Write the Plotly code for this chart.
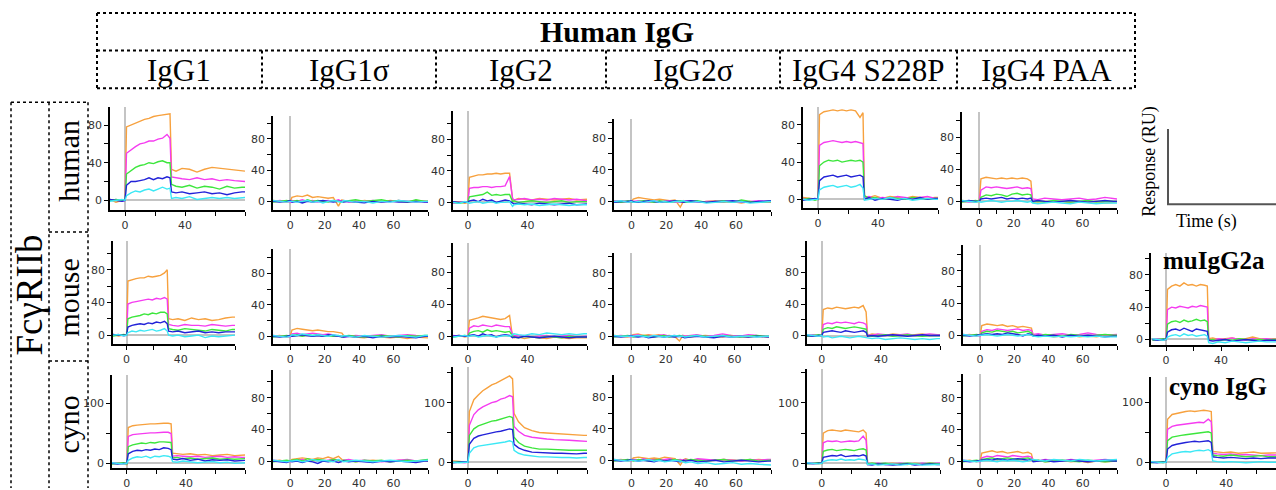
import plotly.graph_objects as go

# ---------------- data ----------------
T = [-10, -6, -2, 0, 1, 4, 7, 10, 13, 16, 19, 22, 25, 28, 30, 31, 34, 38, 43, 48, 53, 58, 63, 68, 73, 78, 80]
SERIES_COLORS = ["#F7A13E", "#F53CF0", "#3CE63C", "#2222D8", "#3CE8F5"]  # orange, magenta, green, blue, cyan

igg1_human = [
    [1,-2,0,0,78,80,82,84,86,87,89,90,91,92,92,33,31,34,33,30,33,35,34,33,32,31,31],
    [0,1,-1,0,50,54,57,60,61,63,63,65,66,70,66,25,24,23,22,24,22,23,21,22,21,20,20],
    [0,1,0,0,28,32,35,37,38,40,39,41,42,40,40,17,15,14,16,13,15,14,12,15,13,14,14],
    [1,0,-1,0,16,20,20,21,22,24,22,24,23,25,24,9,8,9,7,8,9,7,8,6,8,9,9],
    [-1,0,1,0,5,8,10,9,11,12,10,12,14,12,13,2,3,2,4,1,2,3,2,3,2,3,3]]
igg1s_human = [
    [1,0,-1,0,5,7,6,8,5,6,5,4,5,-6,2,1,0,-1,1,0,-1,1,0,-1,1,0,0],
    [0,1,0,-1,1,0,2,0,1,-1,0,1,0,2,0,1,-1,0,0,1,-1,0,1,0,-1,0,-1],
    [-1,0,1,0,0,1,-1,2,0,1,0,-1,1,0,-1,0,1,2,0,1,2,0,1,-1,2,0,0],
    [0,-1,0,1,-1,0,-2,0,-1,0,1,0,-1,0,0,-1,0,-1,-2,0,-1,0,-1,-1,0,-1,-1],
    [1,0,-1,0,0,-1,0,1,-1,0,-2,0,1,0,-1,1,0,-1,0,-2,0,-1,1,0,-1,0,0]]
igg2_human = [
    [0,1,-1,0,32,34,35,35,36,36,37,36,37,37,4,3,5,4,3,5,4,3,4,5,3,4,4],
    [-1,0,1,0,18,19,19,20,20,19,20,20,21,33,5,3,4,5,3,4,3,5,4,3,4,2,2],
    [0,-1,0,0,7,8,9,10,13,9,10,9,10,10,1,2,0,1,2,1,0,1,2,0,1,1,1],
    [1,0,0,0,2,3,1,4,2,3,0,2,3,2,-1,-2,-1,-2,-3,-1,-2,-3,-2,-1,-3,-2,-2],
    [0,-1,1,0,-1,0,1,-1,0,1,-1,0,0,1,-5,-3,-2,-3,-2,-4,-3,-2,-3,-4,-3,-3,-3]]
igg2s_human = [
    [0,1,-1,0,3,5,4,3,2,3,2,1,2,-7,1,0,1,-1,0,1,-1,0,-2,0,-1,-1,-1],
    [1,0,0,-1,0,1,0,-1,1,0,0,1,-1,0,0,1,0,-1,0,0,1,0,-1,0,1,0,0],
    [0,-1,1,0,-1,0,1,0,-1,1,0,-1,0,1,0,-1,0,1,-1,0,1,-1,2,0,-1,0,0],
    [-1,0,0,1,0,-1,0,1,0,-1,0,0,1,0,-1,0,1,0,-1,0,0,1,0,-1,0,1,1],
    [0,1,-1,0,-1,0,-1,0,1,-1,0,-1,0,0,1,0,-1,0,-2,-1,0,-1,0,-2,-1,0,0]]
igg4p_human = [
    [2,1,0,0,91,94,95,96,95,96,95,96,95,88,93,3,2,4,1,3,2,1,3,2,1,2,2],
    [1,0,0,0,58,61,62,63,62,61,62,61,62,61,60,2,3,1,2,1,3,2,1,2,3,1,1],
    [0,1,-1,0,36,40,42,41,42,40,41,42,41,42,40,4,1,2,0,2,1,0,2,1,0,1,1],
    [-1,0,1,0,20,24,25,26,24,25,26,24,25,26,24,0,2,-1,1,0,-1,1,0,2,0,1,1],
    [0,-1,0,0,10,13,14,15,13,14,15,13,14,16,12,-1,0,1,0,2,0,1,-1,0,1,0,0]]
igg4paa_human = [
    [1,0,-1,0,28,30,29,28,29,28,29,28,29,28,25,0,-1,0,-1,0,-2,0,-1,0,-2,-1,-1],
    [0,-1,0,0,14,18,17,18,17,16,17,18,16,17,16,3,2,4,3,2,3,4,2,3,5,3,3],
    [-1,0,1,0,5,8,7,9,8,6,9,10,8,9,8,-1,0,-1,1,0,-1,0,1,-1,0,0,0],
    [0,1,0,0,3,4,3,4,5,3,4,3,4,3,4,0,1,0,-1,0,1,0,-1,0,1,0,0],
    [1,0,-1,0,-1,0,1,0,-1,0,0,1,0,-1,0,-2,-3,-2,-1,-2,-3,-1,-2,-3,-2,-2,-2]]

igg1_mouse = [
    [1,-1,0,0,66,68,69,70,70,72,71,72,73,76,80,20,19,20,18,21,19,20,18,19,21,22,22],
    [0,1,-1,0,38,40,41,42,43,44,43,45,44,46,44,13,12,11,13,12,12,11,13,12,11,12,12],
    [-1,0,1,0,20,22,23,24,26,25,27,26,28,28,26,8,7,6,8,7,6,5,7,6,5,7,7],
    [1,0,0,0,10,12,13,14,13,15,14,16,15,17,14,5,4,5,3,4,5,3,4,3,4,4,4],
    [0,1,-1,0,3,5,4,6,5,6,7,5,6,8,5,0,-1,0,-2,-1,0,-3,-1,-2,-1,0,0]]
igg1s_mouse = [
    [0,1,-1,0,8,10,9,8,7,8,7,6,6,5,4,1,0,-1,-2,0,-1,-2,-1,-3,-1,-2,-2],
    [1,0,0,-1,3,4,2,3,4,3,2,3,2,1,0,-1,0,1,0,1,2,0,1,2,1,0,0],
    [-1,0,1,0,1,2,0,2,1,2,0,1,0,1,-1,0,1,0,-1,0,1,0,-1,1,0,1,1],
    [0,-1,0,1,0,1,2,1,0,1,0,2,1,0,0,-1,0,-1,0,-2,0,-1,0,-1,-2,0,0],
    [1,0,-1,0,2,1,3,2,1,2,1,0,2,1,0,1,0,-1,1,0,-1,0,1,0,-1,1,1]]
igg2_mouse = [
    [0,1,-1,0,20,22,23,25,24,23,22,21,22,26,-1,-2,-1,-3,-1,-2,-3,-1,-2,-3,-2,-2,-2],
    [1,0,0,0,10,13,12,14,13,12,14,13,12,12,2,1,0,1,-1,0,1,-1,0,1,-1,0,0],
    [-1,0,1,0,4,6,7,5,8,6,7,6,5,6,0,-1,-2,0,-1,-2,0,-1,-2,0,-1,-1,-1],
    [0,1,0,0,1,2,0,3,1,2,-1,1,2,1,-2,-1,-2,0,-1,-2,-1,0,-1,-2,-1,-1,-1],
    [-1,0,1,0,0,1,-1,0,1,0,-1,0,1,0,2,3,2,1,3,2,4,3,2,3,2,3,3]]
igg2s_mouse = [
    [1,0,-1,0,2,3,1,2,1,2,0,1,0,-6,1,0,-1,0,1,0,-1,1,0,-1,0,-1,-1],
    [0,1,0,-1,1,2,0,1,0,1,2,0,1,0,1,0,1,2,0,1,3,1,0,2,1,0,0],
    [-1,0,1,0,-1,0,1,0,-1,0,1,-1,0,1,0,-1,0,1,0,-1,1,0,-1,0,1,0,0],
    [0,-1,0,1,0,-1,0,-2,-1,0,-1,0,-1,0,-1,-2,-1,0,-1,-2,0,-1,0,-1,0,-1,-1],
    [1,0,0,0,0,1,0,-1,1,0,-1,0,1,0,0,-1,0,1,-1,0,1,-1,0,0,-1,0,0]]
igg4p_mouse = [
    [1,0,-1,0,33,35,34,36,35,34,35,36,35,38,30,0,2,1,0,2,1,0,1,2,0,1,1],
    [0,1,0,0,14,16,15,17,16,17,16,15,17,16,14,1,0,2,1,0,1,2,0,1,2,1,1],
    [-1,0,1,0,8,10,9,11,10,9,10,11,10,9,8,0,-1,0,1,-1,0,1,0,-1,0,0,0],
    [0,-1,0,0,4,5,6,5,4,6,5,4,5,6,4,-1,0,-1,0,1,0,-1,0,1,0,0,0],
    [1,0,-1,0,-2,-1,-3,-2,-1,-2,-3,-2,-1,-2,-3,-3,-4,-3,-5,-4,-3,-4,-5,-4,-5,-4,-4]]
igg4paa_mouse = [
    [0,1,-1,0,12,14,13,12,13,11,12,10,11,10,9,0,-1,0,-2,-1,0,-2,-1,-2,0,-1,-1],
    [1,0,0,-1,5,7,6,8,7,6,7,8,6,7,6,1,2,0,1,2,0,1,3,1,0,1,1],
    [-1,0,1,0,3,5,4,6,5,4,5,3,4,5,3,0,-1,1,0,-1,1,0,-1,0,1,0,0],
    [0,-1,0,1,1,2,1,2,1,3,2,1,-1,2,1,-1,0,-1,0,-2,0,-1,0,-1,-2,-1,-1],
    [1,0,-1,0,0,1,0,-1,0,1,0,-1,0,1,0,-1,-2,-1,-2,-1,-2,-1,-2,-1,-2,-2,-2]]
muigg2a_mouse = [
    [1,0,-1,0,62,66,68,66,70,67,68,66,68,67,66,1,2,0,1,2,0,1,3,1,0,1,1],
    [0,1,0,0,37,40,39,41,40,39,41,40,42,41,40,0,-1,1,0,2,0,-1,1,0,1,0,0],
    [-1,0,1,0,19,22,23,21,24,22,23,25,23,24,22,-1,0,-2,0,-1,1,0,-1,0,-1,0,0],
    [0,-1,0,0,9,12,13,11,14,12,10,13,12,11,10,-1,-2,-1,0,-2,-1,0,-1,-2,-1,-1,-1],
    [1,0,-1,0,3,5,6,4,7,5,6,4,5,6,4,-4,-5,-3,-4,-2,-3,-4,-3,-2,-3,-3,-3]]

igg1_cyno = [
    [0,1,-1,-2,60,63,64,65,65,66,66,67,67,67,66,17,16,15,16,14,15,13,14,15,13,14,14],
    [1,0,0,-1,45,48,49,50,50,51,51,52,52,52,50,12,13,12,11,12,10,11,12,10,11,10,10],
    [-1,0,1,-1,28,31,33,34,33,35,34,36,36,36,35,9,10,8,9,7,8,9,7,8,7,8,8],
    [0,-1,0,0,16,20,22,21,23,22,24,23,26,25,23,7,6,8,5,7,4,6,5,6,4,5,5],
    [1,0,-1,0,5,9,11,10,12,9,12,11,13,12,10,3,2,4,3,1,2,3,1,2,0,1,1]]
igg1s_cyno = [
    [0,1,-1,0,2,3,4,3,2,4,3,5,3,6,2,0,1,-1,0,1,0,-1,1,0,-1,0,0],
    [1,0,0,-1,0,1,2,0,1,2,0,1,2,1,0,1,2,0,1,0,-1,0,1,2,0,1,1],
    [-1,0,1,0,1,2,0,3,1,2,1,0,2,1,0,1,0,-1,1,0,1,-1,0,1,0,2,2],
    [0,-1,-2,0,-1,0,-2,0,-1,-3,0,-1,0,-2,-1,0,-1,0,-1,-2,0,-1,0,-1,-2,0,0],
    [1,0,-1,0,0,1,-1,0,2,0,1,0,-1,2,0,-1,0,1,0,-1,0,1,0,-1,0,1,1]]
igg2_cyno = [
    [2,1,0,0,85,105,113,120,125,130,133,137,140,145,140,82,68,58,53,50,49,48,47,46,46,45,45],
    [1,0,-1,0,62,80,88,93,97,100,102,106,108,112,110,60,52,45,42,40,39,38,38,37,36,35,35],
    [0,1,0,0,45,56,61,64,66,69,70,72,74,77,75,42,33,27,24,22,22,21,21,20,20,20,20],
    [-1,0,1,0,30,40,44,46,48,50,51,52,54,56,55,30,24,20,17,16,16,15,15,14,14,15,15],
    [0,-1,0,0,15,24,27,28,30,31,32,33,34,36,34,20,15,12,10,9,9,8,8,8,7,8,8]]
igg2s_cyno = [
    [0,1,-1,0,3,4,3,2,3,2,4,3,2,-6,1,2,0,1,-1,0,1,0,-1,0,1,0,0],
    [1,0,0,-1,1,0,2,0,1,0,1,2,0,1,0,1,0,2,1,0,1,0,-1,1,0,1,1],
    [-1,0,1,0,-1,1,0,-1,0,1,-1,0,1,0,-1,0,1,0,-1,0,1,-1,0,1,-1,0,0],
    [0,-1,0,1,0,-1,0,-1,-2,0,-1,0,-1,-2,0,-1,0,-2,-1,0,-2,-1,0,-1,-2,-1,-1],
    [1,0,-1,0,0,-1,0,1,-1,0,-2,-1,0,-1,-2,-3,-2,-4,-3,-5,-4,-3,-5,-4,-5,-6,-6]]
igg4p_cyno = [
    [1,0,-1,0,50,54,55,54,53,55,54,53,52,55,50,-1,0,-2,-1,0,-1,-2,0,-1,0,-1,-1],
    [0,1,0,0,34,37,36,37,35,36,37,36,37,45,38,0,-1,0,-2,-1,0,-1,-2,0,-1,0,0],
    [-1,0,1,0,20,22,23,21,22,23,22,21,23,24,22,-1,0,-1,0,-2,-1,0,-1,-2,0,-1,-1],
    [0,-1,0,0,10,12,13,12,14,11,12,13,12,14,12,-2,-3,-1,-2,-3,-2,-1,-3,-2,-1,-2,-2],
    [1,0,-1,0,3,5,6,5,7,5,6,5,7,6,5,-2,-1,-3,-2,-1,-3,-2,-1,-3,-2,-2,-2]]
igg4paa_cyno = [
    [0,1,-1,0,10,12,13,11,12,10,11,12,10,11,9,0,1,-1,0,1,-1,0,-2,0,-1,0,0],
    [1,0,0,-1,4,6,5,7,6,5,7,6,5,6,5,1,0,2,1,0,2,1,0,1,2,1,1],
    [-1,0,1,0,2,3,4,2,3,4,3,2,3,4,2,0,1,-1,0,1,0,-1,1,0,-1,0,0],
    [0,-1,0,1,1,2,1,3,2,1,2,3,2,1,2,-1,0,1,-1,0,1,0,-1,0,1,0,0],
    [1,0,-1,0,0,1,0,-1,1,0,1,0,-1,0,1,2,1,0,2,1,0,2,1,0,1,2,2]]
cynoigg_cyno = [
    [1,0,-1,0,72,80,82,84,85,86,85,86,87,86,85,18,17,16,17,15,16,17,15,16,17,16,16],
    [0,1,0,0,55,60,62,63,64,65,66,67,66,72,68,15,14,13,14,12,13,12,11,12,11,12,12],
    [-1,0,1,0,36,42,44,45,46,47,48,49,50,51,49,12,11,10,12,10,9,10,11,9,10,9,9],
    [0,-1,0,0,22,28,30,32,33,34,35,34,35,36,33,9,8,7,8,7,6,7,6,7,6,7,7],
    [1,0,-1,0,8,14,16,17,18,17,19,20,19,21,18,2,1,0,1,0,-1,0,1,0,-1,0,0]]

COLUMN_LABELS = ["IgG1", "IgG1σ", "IgG2", "IgG2σ", "IgG4 S228P", "IgG4 PAA"]
ROW_LABELS = ["human", "mouse", "cyno"]

# panel data by (row, col)
PANEL_DATA = {
    (1, 1): igg1_human, (1, 2): igg1s_human, (1, 3): igg2_human,
    (1, 4): igg2s_human, (1, 5): igg4p_human, (1, 6): igg4paa_human,
    (2, 1): igg1_mouse, (2, 2): igg1s_mouse, (2, 3): igg2_mouse,
    (2, 4): igg2s_mouse, (2, 5): igg4p_mouse, (2, 6): igg4paa_mouse, (2, 7): muigg2a_mouse,
    (3, 1): igg1_cyno, (3, 2): igg1s_cyno, (3, 3): igg2_cyno,
    (3, 4): igg2s_cyno, (3, 5): igg4p_cyno, (3, 6): igg4paa_cyno, (3, 7): cynoigg_cyno,
}

# ---------------- geometry (pixels) ----------------
W, H = 1276, 490
# (x_left, x_right, y_top, y_bottom, ymin, ymax, xmin, xmax)
GEOM = {
    (1, 1): (110, 245, 108, 212, -10.5, 99, -10, 80),
    (1, 2): (273, 428, 117, 212, -11.4, 109, -10, 80),
    (1, 3): (453, 587, 112, 212, -10, 116, -10, 80),
    (1, 4): (614, 771, 120, 212, -11, 104, -10, 80),
    (1, 5): (803, 938, 108, 210, -9.6, 99, -10, 80),
    (1, 6): (962, 1117, 113, 210, -8.6, 111, -10, 80),
    (2, 1): (113, 235, 243, 347, -11, 115, -10, 80),
    (2, 2): (273, 428, 251, 347, -10, 111, -10, 80),
    (2, 3): (453, 587, 245, 347, -10, 117, -10, 80),
    (2, 4): (614, 769, 255, 347, -10, 105, -10, 80),
    (2, 5): (807, 940, 243, 347, -11, 120, -10, 80),
    (2, 6): (963, 1117, 247, 347, -11, 112, -10, 80),
    (2, 7): (1151, 1276, 255, 348, -7, 107, -11, 80),
    (3, 1): (112, 245, 378, 472, -8, 148, -10, 80),
    (3, 2): (273, 428, 373, 472, -9, 115, -10, 80),
    (3, 3): (453, 587, 370, 472, -10, 160, -10, 80),
    (3, 4): (614, 771, 378, 472, -10, 109, -10, 80),
    (3, 5): (807, 940, 372, 472, -8, 156, -10, 80),
    (3, 6): (963, 1117, 377, 472, -9, 110, -10, 80),
    (3, 7): (1151, 1276, 380, 472, -10, 143, -10, 73),
}

def px(x):
    return x / W

def py(y):
    return 1 - y / H

fig = go.Figure()
layout = {}
TICKFONT = dict(family="DejaVu Sans", size=11, color="#333333")

for i, (key, data) in enumerate(PANEL_DATA.items(), start=1):
    r, c = key
    xl, xr, yt, yb, ymin, ymax, xmin, xmax = GEOM[key]
    xname = "x" if i == 1 else f"x{i}"
    yname = "y" if i == 1 else f"y{i}"
    for vals, col in zip(data, SERIES_COLORS):
        fig.add_trace(go.Scatter(x=T, y=vals, mode="lines",
                                 line=dict(color=col, width=1.4),
                                 xaxis=xname, yaxis=yname,
                                 showlegend=False, hoverinfo="skip"))
    if c in (2, 4, 6):
        xt = [0, 10, 20, 30, 40, 50, 60, 70, 80]
        xtt = ["0", "", "20", "", "40", "", "60", "", ""]
    else:
        xt = [0, 20, 40, 60, 80]
        xtt = ["0", "", "40", "", ""]
    if r == 3 and c in (1, 3, 5, 7):
        yt_v = [0, 50, 100, 150]
        yt_t = ["0", "", "100", ""]
    else:
        yt_v = [0, 20, 40, 60, 80, 100]
        yt_t = ["0", "", "40", "", "80", ""]
    xa = "xaxis" if i == 1 else f"xaxis{i}"
    ya = "yaxis" if i == 1 else f"yaxis{i}"
    layout[xa] = dict(domain=[px(xl), min(px(xr), 1.0)], anchor=yname,
                      range=[xmin, xmax], showgrid=False,
                      zeroline=True, zerolinecolor="#c4c4c4", zerolinewidth=1.5,
                      showline=True, linecolor="black", linewidth=1.5,
                      ticks="outside", ticklen=4, tickwidth=1.2, tickcolor="black",
                      tickmode="array", tickvals=xt, ticktext=xtt,
                      tickfont=TICKFONT, fixedrange=True)
    layout[ya] = dict(domain=[py(yb), py(yt)], anchor=xname,
                      range=[ymin, ymax], showgrid=False,
                      zeroline=True, zerolinecolor="#c4c4c4", zerolinewidth=1.5,
                      showline=True, linecolor="black", linewidth=1.5,
                      ticks="outside", ticklen=4, tickwidth=1.2, tickcolor="black",
                      tickmode="array", tickvals=yt_v, ticktext=yt_t,
                      tickfont=TICKFONT, fixedrange=True)

# ---------------- dotted frames ----------------
shapes = []
def dline(x0, y0, x1, y1, dash="dot", color="black", width=2):
    shapes.append(dict(type="line", xref="paper", yref="paper",
                       x0=px(x0), y0=py(y0), x1=px(x1), y1=py(y1),
                       line=dict(color=color, width=width, dash=dash)))

# header box
HX0, HX1, HY0, HYM, HY1 = 97, 1135, 13, 51, 89
dline(HX0, HY0, HX1, HY0)
dline(HX0, HYM, HX1, HYM)
dline(HX0, HY1, HX1, HY1)
dline(HX0, HY0, HX0, HY1)
dline(HX1, HY0, HX1, HY1)
COL_DIVS = [262, 436, 606, 780, 957]
for xd in COL_DIVS:
    dline(xd, HYM, xd, HY1)

# left box
LX0, LXM, LX1, LY0 = 11, 49, 88, 103
dline(LX0, LY0, LX1, LY0, width=1.5)
dline(LX0, LY0, LX0, 492, width=1.5)
dline(LXM, LY0, LXM, 492, width=1.5)
dline(LX1, LY0, LX1, 492, width=1.5)
for yd in (234, 364):
    dline(LXM, yd, LX1, yd, width=1.5)

# axis-legend illustration
dline(1168, 130, 1168, 206, dash="solid", color="#555555", width=2)
dline(1167, 206, 1276, 206, dash="solid", color="#555555", width=2)

# ---------------- text ----------------
ann = []
def text(x, y, s, size, bold=False, angle=0, family="Liberation Serif"):
    ann.append(dict(xref="paper", yref="paper", x=px(x), y=py(y),
                    text=f"<b>{s}</b>" if bold else s, showarrow=False,
                    xanchor="center", yanchor="middle", textangle=angle,
                    font=dict(family=family, size=size, color="black")))

text(617, 32, "Human IgG", 30, bold=True)
COL_CENTERS = [179, 349, 521, 693, 868, 1046]
for lab, xc in zip(COLUMN_LABELS, COL_CENTERS):
    text(xc, 71, lab, 31)
text(30, 298, "FcγRIIb", 37, angle=-90)
ROW_CENTERS = [162, 300, 428]
for lab, yc in zip(ROW_LABELS, ROW_CENTERS):
    text(69, yc, lab, 30, angle=-90)
text(1150, 163, "Response (RU)", 18, angle=-90)
text(1206, 223, "Time (s)", 18)
text(1214, 263, "muIgG2a", 25, bold=True)
text(1218, 390, "cyno IgG", 25, bold=True)

fig.update_layout(width=W, height=H, margin=dict(l=0, r=0, t=0, b=0),
                  paper_bgcolor="white", plot_bgcolor="white",
                  shapes=shapes, annotations=ann, showlegend=False, **layout)

fig.write_html("out.html", config={"displayModeBar": False},
               post_script="document.body.style.margin='0';document.body.style.padding='0';document.body.style.overflow='hidden';")
